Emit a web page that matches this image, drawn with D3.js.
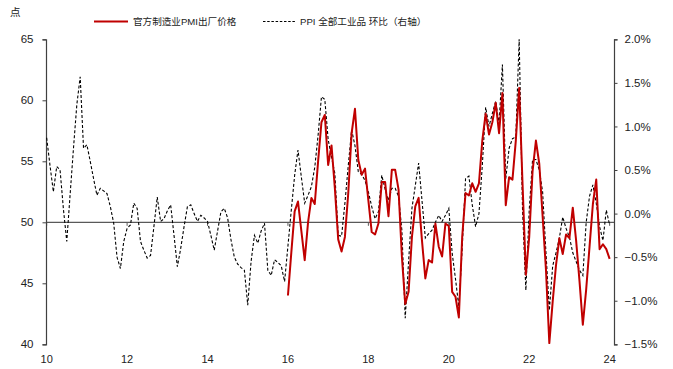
<!DOCTYPE html>
<html>
<head>
<meta charset="utf-8">
<script src="https://cdn.jsdelivr.net/npm/d3@7"></script>
<style>
  html, body { margin: 0; padding: 0; background: #fff; }
  svg { display: block; }
  text { font-family: "Liberation Sans", Arial, "Noto Sans CJK SC", sans-serif; fill: #222; }
</style>
</head>
<body>
<svg id="chart" width="673" height="369"></svg>
<script>
// ---- Data (monthly) ----
const xTickLabels = ["10", "12", "14", "16", "18", "20", "22", "24"];
const xTickMonths = [0, 24, 48, 72, 96, 120, 144, 168]; // months since Jan 2010
const leftTicks = [40, 45, 50, 55, 60, 65];
const rightTicks = [-1.5, -1.0, -0.5, 0.0, 0.5, 1.0, 1.5, 2.0];
const seriesNames = ["官方制造业PMI出厂价格", "PPI 全部工业品 环比（右轴）"];
const unitLabel = "点";

// PPI month-on-month (%), Jan 2010 – Jan 2024
const ppiStartMonth = 0;
const ppiMoM = [
  0.87, 0.55, 0.25, 0.54, 0.50, 0.05, -0.32, 0.22, 0.75, 1.25,
  1.57, 0.75, 0.79, 0.60, 0.40, 0.21, 0.29, 0.26, 0.23, 0.08,
  -0.11, -0.50, -0.63, -0.32, -0.17, -0.13, 0.12, 0.06, -0.32, -0.42,
  -0.51, -0.48, -0.15, 0.19, -0.09, -0.06, 0.03, 0.10, -0.25, -0.61,
  -0.40, -0.15, 0.08, 0.10, 0.00, -0.09, -0.02, -0.05, -0.09, -0.25,
  -0.42, -0.20, 0.02, 0.06, -0.05, -0.30, -0.50, -0.58, -0.62, -0.65,
  -1.05, -0.55, -0.25, -0.34, -0.20, -0.11, -0.65, -0.71, -0.53, -0.56,
  -0.60, -0.78, -0.37, 0.04, 0.44, 0.73, 0.42, 0.12, 0.21, 0.31,
  0.53, 0.90, 1.34, 1.31, 0.85, 0.65, 0.46, -0.25, -0.26, 0.12,
  0.55, 0.96, 0.78, 0.48, 0.45, 0.38, 0.25, 0.08, -0.06, 0.02,
  0.44, 0.28, 0.15, 0.29, 0.29, 0.20, -0.19, -1.20, -0.55, 0.06,
  0.32, 0.58, 0.15, -0.28, -0.23, -0.19, -0.10, -0.02, -0.09, -0.02,
  0.06, -0.45, -0.75, -1.07, -0.40, 0.40, 0.43, 0.10, -0.15, 0.00,
  0.55, 1.22, 1.00, 1.15, 1.29, 1.03, 1.71, 0.40, 0.75, 0.86,
  0.88, 2.00, 0.05, -0.88, 0.04, 0.62, 0.62, 0.50, 0.25, -0.45,
  -1.11, -0.60, -0.45, -0.28, -0.04, -0.17, -0.27, -0.45, -0.55, -0.65,
  -0.71, -0.10, 0.20, 0.33, 0.12, -0.15, -0.31, 0.04, -0.13
];

// Official manufacturing PMI output price index, Jan 2016 – Jan 2024
const pmiStartMonth = 72;
const pmiOutput = [
  44.0, 47.5, 50.9, 51.7, 49.3, 46.9, 50.0, 52.0, 51.5, 55.0,
  58.2, 58.8, 54.7, 56.3, 52.8, 48.6, 47.6, 48.8, 52.4, 57.3,
  59.3, 55.1, 53.9, 54.4, 51.8, 49.2, 49.0, 49.9, 53.3, 53.3,
  50.5, 54.3, 54.3, 52.7, 47.2, 43.3, 44.3, 48.8, 51.3, 52.0,
  48.5, 45.4, 46.9, 46.7, 49.9, 48.0, 47.2, 49.9, 49.7, 44.3,
  43.9, 42.2, 48.8, 52.4, 52.2, 53.2, 52.5, 53.2, 56.7, 58.9,
  57.2, 58.2, 59.8, 57.3, 60.6, 51.4, 53.7, 53.5, 56.7, 61.0,
  53.2, 45.7, 48.8, 54.2, 56.7, 54.8, 50.5, 46.1, 40.1, 43.5,
  46.5, 48.7, 47.4, 49.0, 48.7, 51.2, 48.5, 45.2, 41.6, 44.5,
  48.0, 51.5, 53.5, 47.8, 48.2, 47.8, 47.0
];

// ---- Drawing ----
const svg = d3.select("#chart");
const plot = { left: 46, right: 614, top: 39.3, bottom: 344.3 };

const x = d3.scaleLinear().domain([-0.2, 169.3]).range([plot.left, plot.right]);
const yL = d3.scaleLinear().domain([40, 65]).range([plot.bottom, plot.top]);
const yR = d3.scaleLinear().domain([-1.5, 2.0]).range([plot.bottom, plot.top]);

const axisColor = "#404040";

// horizontal reference line at 50 (category axis crossing)
svg.append("line")
  .attr("x1", plot.left).attr("x2", plot.right)
  .attr("y1", yL(50)).attr("y2", yL(50))
  .attr("stroke", "#595959").attr("stroke-width", 1.2);

// x ticks on the 50 line
svg.selectAll(".xtick").data(xTickMonths).enter().append("line")
  .attr("x1", d => x(d)).attr("x2", d => x(d))
  .attr("y1", yL(50)).attr("y2", yL(50) + 3.5)
  .attr("stroke", "#595959").attr("stroke-width", 1);

// x labels at bottom
svg.selectAll(".xlab").data(xTickMonths).enter().append("text")
  .attr("x", d => x(d)).attr("y", 363)
  .attr("text-anchor", "middle")
  .attr("font-size", 11)
  .text((d, i) => xTickLabels[i]);

// left axis
const gL = svg.append("g").attr("transform", `translate(${plot.left},0)`)
  .call(d3.axisLeft(yL).tickValues(leftTicks).tickSize(3.5).tickPadding(9).tickFormat(d3.format("d")));
gL.select(".domain").attr("stroke", axisColor).attr("stroke-width", 1.2);
gL.selectAll(".tick line").attr("stroke", axisColor);
gL.selectAll(".tick text").attr("font-size", 11.5).attr("fill", "#222")
  .attr("font-family", '"Liberation Sans", Arial, sans-serif');

// right axis
const gR = svg.append("g").attr("transform", `translate(${plot.right},0)`)
  .call(d3.axisRight(yR).tickValues(rightTicks).tickSize(3.5).tickPadding(7)
    .tickFormat(d => d3.format(".1f")(d) + "%"));
gR.select(".domain").attr("stroke", axisColor).attr("stroke-width", 1.2);
gR.selectAll(".tick line").attr("stroke", axisColor);
gR.selectAll(".tick text").attr("font-size", 11.5).attr("fill", "#222")
  .attr("font-family", '"Liberation Sans", Arial, sans-serif');

// unit label
svg.append("text").attr("x", 10).attr("y", 16)
  .attr("font-size", 10.5)
  .attr("font-family", '"Noto Sans CJK SC", sans-serif')
  .text(unitLabel);

// PPI dashed line (right axis)
const ppiLine = d3.line()
  .x((d, i) => x(ppiStartMonth + i))
  .y(d => yR(d));
svg.append("path").datum(ppiMoM)
  .attr("d", ppiLine)
  .attr("fill", "none")
  .attr("stroke", "#000")
  .attr("stroke-width", 1.1)
  .attr("stroke-dasharray", "3,2");

// PMI red line (left axis)
const pmiLine = d3.line()
  .x((d, i) => x(pmiStartMonth + i))
  .y(d => yL(d));
svg.append("path").datum(pmiOutput)
  .attr("d", pmiLine)
  .attr("fill", "none")
  .attr("stroke", "#C00000")
  .attr("stroke-width", 2)
  .attr("stroke-linejoin", "round");

// legend
const legY = 21.5;
svg.append("line").attr("x1", 94).attr("x2", 128).attr("y1", legY).attr("y2", legY)
  .attr("stroke", "#C00000").attr("stroke-width", 2);
svg.append("text").attr("x", 133).attr("y", legY).attr("dy", "0.35em")
  .attr("font-size", 9.6).text(seriesNames[0]);
svg.append("line").attr("x1", 263).attr("x2", 296).attr("y1", legY).attr("y2", legY)
  .attr("stroke", "#000").attr("stroke-width", 1).attr("stroke-dasharray", "2.5,1.7");
svg.append("text").attr("x", 300).attr("y", legY).attr("dy", "0.35em")
  .attr("font-size", 9.6).text(seriesNames[1]);
</script>
</body>
</html>
